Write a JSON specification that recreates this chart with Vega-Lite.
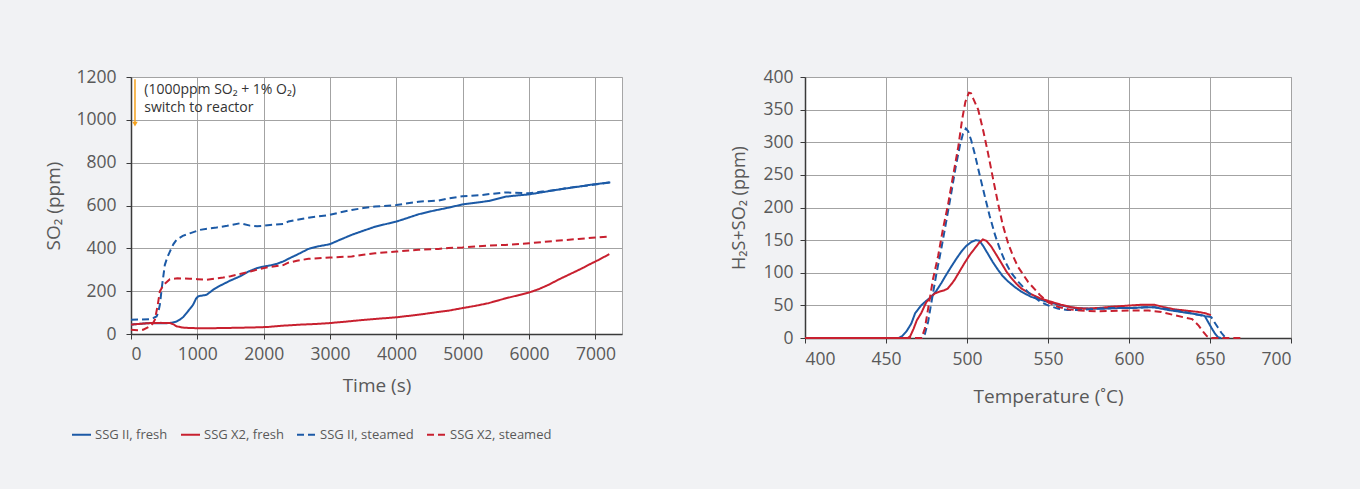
{
  "$schema": "https://vega.github.io/schema/vega-lite/v6.json",
  "background": "#f1f2f4",
  "padding": {"left": 44, "top": 67, "right": 68, "bottom": 48},
  "spacing": 107,
  "config": {
    "font": "Open Sans",
    "view": {"stroke": "#a6a6a6", "fill": "white"},
    "axis": {
      "gridColor": "#a3a3a3", "gridWidth": 1, "domainColor": "#3a3a3a", "domainWidth": 1.5,
      "tickColor": "#3a3a3a", "tickSize": 5, "labelColor": "#595959", "titleColor": "#595959", "format": "d",
      "labelFontSize": 17.5, "titleFontSize": 19, "titleFontWeight": "normal", "labelFont": "Open Sans", "titleFont": "Open Sans"
    },
    "legend": {
      "orient": "none", "direction": "horizontal", "legendX": -60, "legendY": 347,
      "symbolType": "stroke", "symbolSize": 361, "symbolStrokeWidth": 2, "labelFontSize": 13,
      "labelColor": "#595959", "labelFont": "Open Sans", "columnPadding": 9, "labelOffset": 3, "title": null
    }
  },
  "datasets": {
    "left": [
      {"s": "SSG II, fresh", "t": 0, "v": 44}, {"s": "SSG II, fresh", "t": 150, "v": 48}, {"s": "SSG II, fresh", "t": 285, "v": 51}, {"s": "SSG II, fresh", "t": 450, "v": 50}, {"s": "SSG II, fresh", "t": 586, "v": 51}, {"s": "SSG II, fresh", "t": 686, "v": 58}, {"s": "SSG II, fresh", "t": 736, "v": 67}, {"s": "SSG II, fresh", "t": 790, "v": 80}, {"s": "SSG II, fresh", "t": 837, "v": 98}, {"s": "SSG II, fresh", "t": 890, "v": 118}, {"s": "SSG II, fresh", "t": 937, "v": 137}, {"s": "SSG II, fresh", "t": 980, "v": 165}, {"s": "SSG II, fresh", "t": 1013, "v": 176}, {"s": "SSG II, fresh", "t": 1080, "v": 180}, {"s": "SSG II, fresh", "t": 1139, "v": 183}, {"s": "SSG II, fresh", "t": 1190, "v": 195}, {"s": "SSG II, fresh", "t": 1240, "v": 207}, {"s": "SSG II, fresh", "t": 1320, "v": 222}, {"s": "SSG II, fresh", "t": 1390, "v": 233}, {"s": "SSG II, fresh", "t": 1500, "v": 250}, {"s": "SSG II, fresh", "t": 1642, "v": 269}, {"s": "SSG II, fresh", "t": 1760, "v": 290}, {"s": "SSG II, fresh", "t": 1893, "v": 307}, {"s": "SSG II, fresh", "t": 2000, "v": 315}, {"s": "SSG II, fresh", "t": 2095, "v": 320}, {"s": "SSG II, fresh", "t": 2200, "v": 328}, {"s": "SSG II, fresh", "t": 2296, "v": 339}, {"s": "SSG II, fresh", "t": 2371, "v": 351}, {"s": "SSG II, fresh", "t": 2500, "v": 370}, {"s": "SSG II, fresh", "t": 2673, "v": 397}, {"s": "SSG II, fresh", "t": 2800, "v": 408}, {"s": "SSG II, fresh", "t": 2994, "v": 419}, {"s": "SSG II, fresh", "t": 3150, "v": 440}, {"s": "SSG II, fresh", "t": 3326, "v": 463}, {"s": "SSG II, fresh", "t": 3500, "v": 482}, {"s": "SSG II, fresh", "t": 3678, "v": 501}, {"s": "SSG II, fresh", "t": 3850, "v": 514}, {"s": "SSG II, fresh", "t": 4000, "v": 525}, {"s": "SSG II, fresh", "t": 4150, "v": 540}, {"s": "SSG II, fresh", "t": 4333, "v": 559}, {"s": "SSG II, fresh", "t": 4550, "v": 575}, {"s": "SSG II, fresh", "t": 4786, "v": 590}, {"s": "SSG II, fresh", "t": 4996, "v": 605}, {"s": "SSG II, fresh", "t": 5200, "v": 613}, {"s": "SSG II, fresh", "t": 5388, "v": 621}, {"s": "SSG II, fresh", "t": 5640, "v": 641}, {"s": "SSG II, fresh", "t": 5820, "v": 647}, {"s": "SSG II, fresh", "t": 6002, "v": 652}, {"s": "SSG II, fresh", "t": 6200, "v": 662}, {"s": "SSG II, fresh", "t": 6394, "v": 672}, {"s": "SSG II, fresh", "t": 6560, "v": 680}, {"s": "SSG II, fresh", "t": 6746, "v": 688}, {"s": "SSG II, fresh", "t": 6950, "v": 698}, {"s": "SSG II, fresh", "t": 7224, "v": 708},
      {"s": "SSG X2, fresh", "t": 0, "v": 44}, {"s": "SSG X2, fresh", "t": 150, "v": 48}, {"s": "SSG X2, fresh", "t": 285, "v": 51}, {"s": "SSG X2, fresh", "t": 450, "v": 52}, {"s": "SSG X2, fresh", "t": 586, "v": 51}, {"s": "SSG X2, fresh", "t": 640, "v": 45}, {"s": "SSG X2, fresh", "t": 686, "v": 36}, {"s": "SSG X2, fresh", "t": 780, "v": 30}, {"s": "SSG X2, fresh", "t": 887, "v": 28}, {"s": "SSG X2, fresh", "t": 1000, "v": 27}, {"s": "SSG X2, fresh", "t": 1200, "v": 27}, {"s": "SSG X2, fresh", "t": 1390, "v": 28}, {"s": "SSG X2, fresh", "t": 1600, "v": 29}, {"s": "SSG X2, fresh", "t": 1893, "v": 31}, {"s": "SSG X2, fresh", "t": 2069, "v": 33}, {"s": "SSG X2, fresh", "t": 2296, "v": 39}, {"s": "SSG X2, fresh", "t": 2572, "v": 44}, {"s": "SSG X2, fresh", "t": 2800, "v": 47}, {"s": "SSG X2, fresh", "t": 2994, "v": 51}, {"s": "SSG X2, fresh", "t": 3250, "v": 58}, {"s": "SSG X2, fresh", "t": 3477, "v": 65}, {"s": "SSG X2, fresh", "t": 3750, "v": 72}, {"s": "SSG X2, fresh", "t": 4000, "v": 78}, {"s": "SSG X2, fresh", "t": 4333, "v": 90}, {"s": "SSG X2, fresh", "t": 4633, "v": 103}, {"s": "SSG X2, fresh", "t": 4786, "v": 109}, {"s": "SSG X2, fresh", "t": 4996, "v": 121}, {"s": "SSG X2, fresh", "t": 5200, "v": 132}, {"s": "SSG X2, fresh", "t": 5388, "v": 144}, {"s": "SSG X2, fresh", "t": 5640, "v": 166}, {"s": "SSG X2, fresh", "t": 5850, "v": 182}, {"s": "SSG X2, fresh", "t": 6002, "v": 194}, {"s": "SSG X2, fresh", "t": 6150, "v": 210}, {"s": "SSG X2, fresh", "t": 6294, "v": 230}, {"s": "SSG X2, fresh", "t": 6450, "v": 255}, {"s": "SSG X2, fresh", "t": 6646, "v": 284}, {"s": "SSG X2, fresh", "t": 6800, "v": 307}, {"s": "SSG X2, fresh", "t": 6897, "v": 323}, {"s": "SSG X2, fresh", "t": 7048, "v": 346}, {"s": "SSG X2, fresh", "t": 7209, "v": 373},
      {"s": "SSG II, steamed", "t": 0, "v": 67}, {"s": "SSG II, steamed", "t": 150, "v": 68}, {"s": "SSG II, steamed", "t": 285, "v": 69}, {"s": "SSG II, steamed", "t": 340, "v": 75}, {"s": "SSG II, steamed", "t": 385, "v": 82}, {"s": "SSG II, steamed", "t": 410, "v": 100}, {"s": "SSG II, steamed", "t": 435, "v": 137}, {"s": "SSG II, steamed", "t": 470, "v": 230}, {"s": "SSG II, steamed", "t": 510, "v": 323}, {"s": "SSG II, steamed", "t": 550, "v": 360}, {"s": "SSG II, steamed", "t": 586, "v": 385}, {"s": "SSG II, steamed", "t": 640, "v": 420}, {"s": "SSG II, steamed", "t": 686, "v": 440}, {"s": "SSG II, steamed", "t": 780, "v": 458}, {"s": "SSG II, steamed", "t": 887, "v": 470}, {"s": "SSG II, steamed", "t": 1038, "v": 486}, {"s": "SSG II, steamed", "t": 1150, "v": 492}, {"s": "SSG II, steamed", "t": 1290, "v": 497}, {"s": "SSG II, steamed", "t": 1450, "v": 505}, {"s": "SSG II, steamed", "t": 1642, "v": 517}, {"s": "SSG II, steamed", "t": 1793, "v": 506}, {"s": "SSG II, steamed", "t": 1900, "v": 503}, {"s": "SSG II, steamed", "t": 1994, "v": 505}, {"s": "SSG II, steamed", "t": 2095, "v": 509}, {"s": "SSG II, steamed", "t": 2296, "v": 514}, {"s": "SSG II, steamed", "t": 2371, "v": 525}, {"s": "SSG II, steamed", "t": 2500, "v": 533}, {"s": "SSG II, steamed", "t": 2673, "v": 543}, {"s": "SSG II, steamed", "t": 2994, "v": 556}, {"s": "SSG II, steamed", "t": 3150, "v": 568}, {"s": "SSG II, steamed", "t": 3326, "v": 579}, {"s": "SSG II, steamed", "t": 3500, "v": 588}, {"s": "SSG II, steamed", "t": 3678, "v": 595}, {"s": "SSG II, steamed", "t": 4000, "v": 602}, {"s": "SSG II, steamed", "t": 4333, "v": 618}, {"s": "SSG II, steamed", "t": 4633, "v": 623}, {"s": "SSG II, steamed", "t": 4786, "v": 633}, {"s": "SSG II, steamed", "t": 4996, "v": 643}, {"s": "SSG II, steamed", "t": 5288, "v": 649}, {"s": "SSG II, steamed", "t": 5450, "v": 655}, {"s": "SSG II, steamed", "t": 5640, "v": 661}, {"s": "SSG II, steamed", "t": 6002, "v": 657}, {"s": "SSG II, steamed", "t": 6200, "v": 665}, {"s": "SSG II, steamed", "t": 6394, "v": 672}, {"s": "SSG II, steamed", "t": 6600, "v": 683}, {"s": "SSG II, steamed", "t": 6746, "v": 688}, {"s": "SSG II, steamed", "t": 7000, "v": 698}, {"s": "SSG II, steamed", "t": 7224, "v": 708},
      {"s": "SSG X2, steamed", "t": 0, "v": 20}, {"s": "SSG X2, steamed", "t": 100, "v": 18}, {"s": "SSG X2, steamed", "t": 184, "v": 20}, {"s": "SSG X2, steamed", "t": 285, "v": 36}, {"s": "SSG X2, steamed", "t": 330, "v": 50}, {"s": "SSG X2, steamed", "t": 360, "v": 67}, {"s": "SSG X2, steamed", "t": 400, "v": 130}, {"s": "SSG X2, steamed", "t": 435, "v": 199}, {"s": "SSG X2, steamed", "t": 470, "v": 218}, {"s": "SSG X2, steamed", "t": 510, "v": 235}, {"s": "SSG X2, steamed", "t": 586, "v": 256}, {"s": "SSG X2, steamed", "t": 700, "v": 260}, {"s": "SSG X2, steamed", "t": 887, "v": 258}, {"s": "SSG X2, steamed", "t": 1000, "v": 256}, {"s": "SSG X2, steamed", "t": 1139, "v": 253}, {"s": "SSG X2, steamed", "t": 1250, "v": 258}, {"s": "SSG X2, steamed", "t": 1390, "v": 264}, {"s": "SSG X2, steamed", "t": 1500, "v": 270}, {"s": "SSG X2, steamed", "t": 1642, "v": 280}, {"s": "SSG X2, steamed", "t": 1800, "v": 292}, {"s": "SSG X2, steamed", "t": 1893, "v": 300}, {"s": "SSG X2, steamed", "t": 2069, "v": 312}, {"s": "SSG X2, steamed", "t": 2296, "v": 322}, {"s": "SSG X2, steamed", "t": 2371, "v": 333}, {"s": "SSG X2, steamed", "t": 2500, "v": 342}, {"s": "SSG X2, steamed", "t": 2673, "v": 351}, {"s": "SSG X2, steamed", "t": 2994, "v": 357}, {"s": "SSG X2, steamed", "t": 3326, "v": 362}, {"s": "SSG X2, steamed", "t": 3500, "v": 370}, {"s": "SSG X2, steamed", "t": 3678, "v": 377}, {"s": "SSG X2, steamed", "t": 4000, "v": 385}, {"s": "SSG X2, steamed", "t": 4333, "v": 393}, {"s": "SSG X2, steamed", "t": 4633, "v": 397}, {"s": "SSG X2, steamed", "t": 4786, "v": 402}, {"s": "SSG X2, steamed", "t": 4996, "v": 404}, {"s": "SSG X2, steamed", "t": 5388, "v": 413}, {"s": "SSG X2, steamed", "t": 5640, "v": 416}, {"s": "SSG X2, steamed", "t": 6002, "v": 424}, {"s": "SSG X2, steamed", "t": 6394, "v": 435}, {"s": "SSG X2, steamed", "t": 6746, "v": 444}, {"s": "SSG X2, steamed", "t": 7199, "v": 455}
    ],
    "right": [
      {"s": "SSG II, fresh", "t": 400, "v": 0}, {"s": "SSG II, fresh", "t": 458, "v": 0}, {"s": "SSG II, fresh", "t": 460, "v": 3}, {"s": "SSG II, fresh", "t": 462.6, "v": 10}, {"s": "SSG II, fresh", "t": 465.6, "v": 22}, {"s": "SSG II, fresh", "t": 468, "v": 38}, {"s": "SSG II, fresh", "t": 471.7, "v": 50}, {"s": "SSG II, fresh", "t": 474.9, "v": 57}, {"s": "SSG II, fresh", "t": 477.9, "v": 63}, {"s": "SSG II, fresh", "t": 481, "v": 72}, {"s": "SSG II, fresh", "t": 484.1, "v": 84}, {"s": "SSG II, fresh", "t": 487.2, "v": 97}, {"s": "SSG II, fresh", "t": 490.2, "v": 109}, {"s": "SSG II, fresh", "t": 493.3, "v": 121}, {"s": "SSG II, fresh", "t": 496.4, "v": 132}, {"s": "SSG II, fresh", "t": 499.5, "v": 141}, {"s": "SSG II, fresh", "t": 502.6, "v": 147}, {"s": "SSG II, fresh", "t": 505.5, "v": 150}, {"s": "SSG II, fresh", "t": 507.7, "v": 149}, {"s": "SSG II, fresh", "t": 510, "v": 141}, {"s": "SSG II, fresh", "t": 512.9, "v": 129}, {"s": "SSG II, fresh", "t": 516, "v": 116}, {"s": "SSG II, fresh", "t": 519, "v": 105}, {"s": "SSG II, fresh", "t": 522, "v": 95}, {"s": "SSG II, fresh", "t": 525.2, "v": 87}, {"s": "SSG II, fresh", "t": 529.6, "v": 78}, {"s": "SSG II, fresh", "t": 533.5, "v": 71}, {"s": "SSG II, fresh", "t": 539.7, "v": 63}, {"s": "SSG II, fresh", "t": 545, "v": 59}, {"s": "SSG II, fresh", "t": 550, "v": 55}, {"s": "SSG II, fresh", "t": 558, "v": 50}, {"s": "SSG II, fresh", "t": 566.5, "v": 46}, {"s": "SSG II, fresh", "t": 575, "v": 45}, {"s": "SSG II, fresh", "t": 585, "v": 45}, {"s": "SSG II, fresh", "t": 595, "v": 46}, {"s": "SSG II, fresh", "t": 601, "v": 46}, {"s": "SSG II, fresh", "t": 609, "v": 47}, {"s": "SSG II, fresh", "t": 616, "v": 47}, {"s": "SSG II, fresh", "t": 624, "v": 43}, {"s": "SSG II, fresh", "t": 632, "v": 40}, {"s": "SSG II, fresh", "t": 640, "v": 37}, {"s": "SSG II, fresh", "t": 646.7, "v": 34}, {"s": "SSG II, fresh", "t": 648.5, "v": 26}, {"s": "SSG II, fresh", "t": 650.8, "v": 16}, {"s": "SSG II, fresh", "t": 653, "v": 7}, {"s": "SSG II, fresh", "t": 655, "v": 1}, {"s": "SSG II, fresh", "t": 657, "v": 0},
      {"s": "SSG X2, fresh", "t": 400, "v": 0}, {"s": "SSG X2, fresh", "t": 463.5, "v": 0}, {"s": "SSG X2, fresh", "t": 465, "v": 3}, {"s": "SSG X2, fresh", "t": 467, "v": 14}, {"s": "SSG X2, fresh", "t": 469, "v": 27}, {"s": "SSG X2, fresh", "t": 471.7, "v": 38}, {"s": "SSG X2, fresh", "t": 474.9, "v": 55}, {"s": "SSG X2, fresh", "t": 477.9, "v": 63}, {"s": "SSG X2, fresh", "t": 480, "v": 68}, {"s": "SSG X2, fresh", "t": 483, "v": 71}, {"s": "SSG X2, fresh", "t": 486, "v": 73}, {"s": "SSG X2, fresh", "t": 488.2, "v": 76}, {"s": "SSG X2, fresh", "t": 490.2, "v": 82}, {"s": "SSG X2, fresh", "t": 492.3, "v": 89}, {"s": "SSG X2, fresh", "t": 495.4, "v": 102}, {"s": "SSG X2, fresh", "t": 498.5, "v": 115}, {"s": "SSG X2, fresh", "t": 501.6, "v": 127}, {"s": "SSG X2, fresh", "t": 504.7, "v": 137}, {"s": "SSG X2, fresh", "t": 507.5, "v": 146}, {"s": "SSG X2, fresh", "t": 509.8, "v": 151}, {"s": "SSG X2, fresh", "t": 512, "v": 149}, {"s": "SSG X2, fresh", "t": 515, "v": 140}, {"s": "SSG X2, fresh", "t": 518, "v": 128}, {"s": "SSG X2, fresh", "t": 521.2, "v": 115}, {"s": "SSG X2, fresh", "t": 524.3, "v": 102}, {"s": "SSG X2, fresh", "t": 527.3, "v": 92}, {"s": "SSG X2, fresh", "t": 530.5, "v": 83}, {"s": "SSG X2, fresh", "t": 533.5, "v": 76}, {"s": "SSG X2, fresh", "t": 539.7, "v": 67}, {"s": "SSG X2, fresh", "t": 545, "v": 61}, {"s": "SSG X2, fresh", "t": 550, "v": 57}, {"s": "SSG X2, fresh", "t": 558, "v": 51}, {"s": "SSG X2, fresh", "t": 565, "v": 47}, {"s": "SSG X2, fresh", "t": 572, "v": 45}, {"s": "SSG X2, fresh", "t": 581, "v": 46}, {"s": "SSG X2, fresh", "t": 590, "v": 48}, {"s": "SSG X2, fresh", "t": 601.4, "v": 50}, {"s": "SSG X2, fresh", "t": 608, "v": 51}, {"s": "SSG X2, fresh", "t": 615.8, "v": 51}, {"s": "SSG X2, fresh", "t": 622, "v": 47}, {"s": "SSG X2, fresh", "t": 628, "v": 44}, {"s": "SSG X2, fresh", "t": 635, "v": 42}, {"s": "SSG X2, fresh", "t": 642.6, "v": 40}, {"s": "SSG X2, fresh", "t": 647, "v": 38}, {"s": "SSG X2, fresh", "t": 650.6, "v": 35},
      {"s": "SSG II, steamed", "t": 400, "v": 0}, {"s": "SSG II, steamed", "t": 472, "v": 0}, {"s": "SSG II, steamed", "t": 474, "v": 6}, {"s": "SSG II, steamed", "t": 476, "v": 25}, {"s": "SSG II, steamed", "t": 478.2, "v": 57}, {"s": "SSG II, steamed", "t": 481, "v": 97}, {"s": "SSG II, steamed", "t": 484.3, "v": 139}, {"s": "SSG II, steamed", "t": 487.5, "v": 183}, {"s": "SSG II, steamed", "t": 490.5, "v": 225}, {"s": "SSG II, steamed", "t": 493, "v": 262}, {"s": "SSG II, steamed", "t": 495.7, "v": 296}, {"s": "SSG II, steamed", "t": 497.5, "v": 313}, {"s": "SSG II, steamed", "t": 499.3, "v": 321}, {"s": "SSG II, steamed", "t": 500.7, "v": 317}, {"s": "SSG II, steamed", "t": 502.6, "v": 303}, {"s": "SSG II, steamed", "t": 505, "v": 280}, {"s": "SSG II, steamed", "t": 508, "v": 248}, {"s": "SSG II, steamed", "t": 511.1, "v": 216}, {"s": "SSG II, steamed", "t": 514, "v": 187}, {"s": "SSG II, steamed", "t": 517.3, "v": 158}, {"s": "SSG II, steamed", "t": 520.5, "v": 135}, {"s": "SSG II, steamed", "t": 523.4, "v": 118}, {"s": "SSG II, steamed", "t": 527, "v": 101}, {"s": "SSG II, steamed", "t": 531.7, "v": 86}, {"s": "SSG II, steamed", "t": 537.8, "v": 70}, {"s": "SSG II, steamed", "t": 545, "v": 56}, {"s": "SSG II, steamed", "t": 550, "v": 50}, {"s": "SSG II, steamed", "t": 556, "v": 45}, {"s": "SSG II, steamed", "t": 562, "v": 43}, {"s": "SSG II, steamed", "t": 570, "v": 43}, {"s": "SSG II, steamed", "t": 580, "v": 45}, {"s": "SSG II, steamed", "t": 590, "v": 46}, {"s": "SSG II, steamed", "t": 601, "v": 46}, {"s": "SSG II, steamed", "t": 610, "v": 47}, {"s": "SSG II, steamed", "t": 616, "v": 47}, {"s": "SSG II, steamed", "t": 624, "v": 44}, {"s": "SSG II, steamed", "t": 632, "v": 41}, {"s": "SSG II, steamed", "t": 640, "v": 37}, {"s": "SSG II, steamed", "t": 646, "v": 34}, {"s": "SSG II, steamed", "t": 650.8, "v": 32}, {"s": "SSG II, steamed", "t": 652.5, "v": 25}, {"s": "SSG II, steamed", "t": 654.9, "v": 16}, {"s": "SSG II, steamed", "t": 657, "v": 8}, {"s": "SSG II, steamed", "t": 659, "v": 2}, {"s": "SSG II, steamed", "t": 661, "v": 0},
      {"s": "SSG X2, steamed", "t": 400, "v": 0}, {"s": "SSG X2, steamed", "t": 472, "v": 0}, {"s": "SSG X2, steamed", "t": 474, "v": 15}, {"s": "SSG X2, steamed", "t": 476, "v": 45}, {"s": "SSG X2, steamed", "t": 479, "v": 90}, {"s": "SSG X2, steamed", "t": 482.2, "v": 126}, {"s": "SSG X2, steamed", "t": 485, "v": 165}, {"s": "SSG X2, steamed", "t": 488.4, "v": 206}, {"s": "SSG X2, steamed", "t": 491.5, "v": 250}, {"s": "SSG X2, steamed", "t": 494.6, "v": 293}, {"s": "SSG X2, steamed", "t": 497, "v": 335}, {"s": "SSG X2, steamed", "t": 499, "v": 362}, {"s": "SSG X2, steamed", "t": 501.2, "v": 376}, {"s": "SSG X2, steamed", "t": 502.5, "v": 375}, {"s": "SSG X2, steamed", "t": 504, "v": 366}, {"s": "SSG X2, steamed", "t": 506.9, "v": 350}, {"s": "SSG X2, steamed", "t": 510, "v": 318}, {"s": "SSG X2, steamed", "t": 513, "v": 283}, {"s": "SSG X2, steamed", "t": 516, "v": 245}, {"s": "SSG X2, steamed", "t": 519.2, "v": 206}, {"s": "SSG X2, steamed", "t": 522, "v": 174}, {"s": "SSG X2, steamed", "t": 525.4, "v": 145}, {"s": "SSG X2, steamed", "t": 528.5, "v": 125}, {"s": "SSG X2, steamed", "t": 531.5, "v": 109}, {"s": "SSG X2, steamed", "t": 537.7, "v": 86}, {"s": "SSG X2, steamed", "t": 545, "v": 66}, {"s": "SSG X2, steamed", "t": 550, "v": 55}, {"s": "SSG X2, steamed", "t": 556, "v": 48}, {"s": "SSG X2, steamed", "t": 562.5, "v": 44}, {"s": "SSG X2, steamed", "t": 570, "v": 42}, {"s": "SSG X2, steamed", "t": 581, "v": 41}, {"s": "SSG X2, steamed", "t": 600, "v": 42}, {"s": "SSG X2, steamed", "t": 612, "v": 42}, {"s": "SSG X2, steamed", "t": 620, "v": 40}, {"s": "SSG X2, steamed", "t": 628, "v": 35}, {"s": "SSG X2, steamed", "t": 635, "v": 31}, {"s": "SSG X2, steamed", "t": 639, "v": 29}, {"s": "SSG X2, steamed", "t": 641, "v": 24}, {"s": "SSG X2, steamed", "t": 643, "v": 19}, {"s": "SSG X2, steamed", "t": 646, "v": 9}, {"s": "SSG X2, steamed", "t": 648, "v": 3}, {"s": "SSG X2, steamed", "t": 650, "v": 0}, {"s": "SSG X2, steamed", "t": 671, "v": 0}
    ]
  },
  "hconcat": [
    {
      "width": 491,
      "height": 257,
      "layer": [
        {
          "data": {"name": "left"},
          "mark": {"type": "line", "strokeWidth": 2},
          "encoding": {
            "x": {"field": "t", "type": "quantitative", "scale": {"domain": [0, 7400], "nice": false},
                  "axis": {"values": [0, 1000, 2000, 3000, 4000, 5000, 6000, 7000], "title": "Time (s)", "labelPadding": 6, "titlePadding": 14}},
            "y": {"field": "v", "type": "quantitative", "scale": {"domain": [0, 1200], "nice": false},
                  "axis": {"values": [0, 200, 400, 600, 800, 1000, 1200], "title": "SO₂ (ppm)", "labelPadding": 10, "titlePadding": 12}},
            "color": {"field": "s", "type": "nominal",
                      "scale": {"domain": ["SSG II, fresh", "SSG X2, fresh", "SSG II, steamed", "SSG X2, steamed"], "range": ["#1c5aa6", "#c8202f", "#1c5aa6", "#c8202f"]}},
            "strokeDash": {"field": "s", "type": "nominal",
                      "scale": {"domain": ["SSG II, fresh", "SSG X2, fresh", "SSG II, steamed", "SSG X2, steamed"], "range": [[1, 0], [1, 0], [7, 4], [7, 4]]}}
          }
        },
        {
          "data": {"values": [{"t": 60, "v": 1190, "v2": 990}]},
          "mark": {"type": "rule", "color": "#f5a21e", "strokeWidth": 1.5},
          "encoding": {"x": {"field": "t", "type": "quantitative"}, "y": {"field": "v", "type": "quantitative"}, "y2": {"field": "v2"}}
        },
        {
          "data": {"values": [{"t": 60, "v": 980}]},
          "mark": {"type": "point", "shape": "triangle-down", "filled": true, "size": 30, "color": "#f5a21e", "opacity": 1},
          "encoding": {"x": {"field": "t", "type": "quantitative"}, "y": {"field": "v", "type": "quantitative"}}
        },
        {
          "data": {"values": [{"t": 200, "v": 1137, "txt": "(1000ppm SO₂ + 1% O₂)"}, {"t": 200, "v": 1055, "txt": "switch to reactor"}]},
          "mark": {"type": "text", "align": "left", "baseline": "middle", "fontSize": 14, "color": "#333333", "font": "Open Sans"},
          "encoding": {"x": {"field": "t", "type": "quantitative"}, "y": {"field": "v", "type": "quantitative"}, "text": {"field": "txt"}}
        }
      ]
    },
    {
      "width": 486,
      "height": 261,
      "data": {"name": "right"},
      "mark": {"type": "line", "strokeWidth": 2},
      "encoding": {
        "x": {"field": "t", "type": "quantitative", "scale": {"domain": [400, 700], "nice": false},
              "axis": {"values": [400, 450, 500, 550, 600, 650, 700], "title": "Temperature (˚C)", "labelPadding": 7, "titlePadding": 20}},
        "y": {"field": "v", "type": "quantitative", "scale": {"domain": [0, 400], "nice": false},
              "axis": {"values": [0, 50, 100, 150, 200, 250, 300, 350, 400], "title": "H₂S+SO₂ (ppm)", "titleFontSize": 18, "labelPadding": 7, "titlePadding": 14}},
        "color": {"field": "s", "type": "nominal",
                  "scale": {"domain": ["SSG II, fresh", "SSG X2, fresh", "SSG II, steamed", "SSG X2, steamed"], "range": ["#1c5aa6", "#c8202f", "#1c5aa6", "#c8202f"]}},
        "strokeDash": {"field": "s", "type": "nominal",
                  "scale": {"domain": ["SSG II, fresh", "SSG X2, fresh", "SSG II, steamed", "SSG X2, steamed"], "range": [[1, 0], [1, 0], [7, 4], [7, 4]]}}
      }
    }
  ]
}
